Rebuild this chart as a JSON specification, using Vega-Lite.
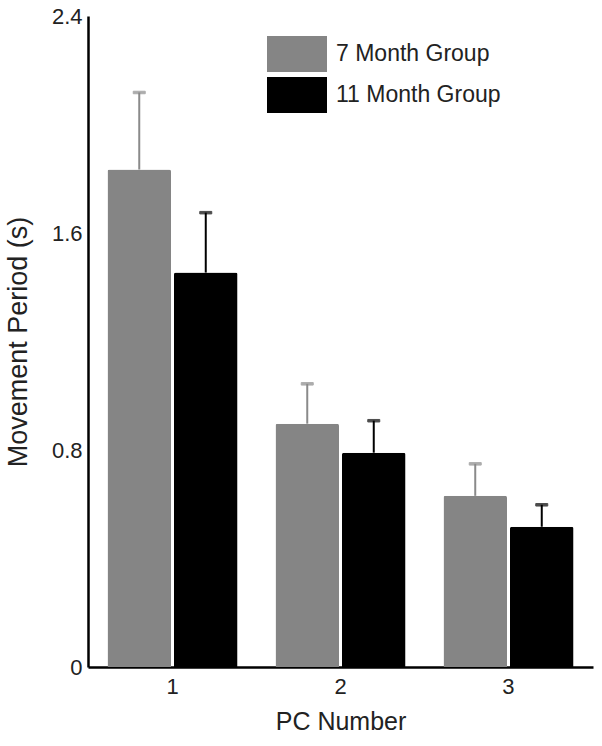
{
  "$schema": "https://vega.github.io/schema/vega-lite/v6.json",
  "autosize": "none",
  "width": 505,
  "height": 651,
  "padding": {"left": 88, "top": 16, "right": 9, "bottom": 79},
  "background": "white",
  "data": {
    "values": [
      {"pc": "1", "group": "7 Month Group", "mean": 1.834, "upper": 2.118},
      {"pc": "1", "group": "11 Month Group", "mean": 1.454, "upper": 1.675},
      {"pc": "2", "group": "7 Month Group", "mean": 0.897, "upper": 1.044},
      {"pc": "2", "group": "11 Month Group", "mean": 0.790, "upper": 0.908},
      {"pc": "3", "group": "7 Month Group", "mean": 0.631, "upper": 0.749},
      {"pc": "3", "group": "11 Month Group", "mean": 0.517, "upper": 0.598}
    ]
  },
  "encoding": {
    "x": {
      "field": "pc", "type": "nominal",
      "scale": {"paddingInner": 0.226, "paddingOuter": 0.116},
      "axis": {"title": "PC Number", "labelAngle": 0, "ticks": false, "labelPadding": 9, "titlePadding": 12}
    },
    "xOffset": {
      "field": "group", "type": "nominal",
      "sort": ["7 Month Group", "11 Month Group"],
      "scale": {"paddingInner": 0.045, "paddingOuter": 0}
    }
  },
  "layer": [
    {
      "mark": {"type": "bar", "cornerRadiusEnd": 2},
      "encoding": {
        "y": {
          "field": "mean", "type": "quantitative",
          "scale": {"domain": [0, 2.4], "nice": false},
          "axis": {"title": "Movement Period (s)", "titleFontSize": 27, "values": [0, 0.8, 1.6, 2.4], "format": "~g", "ticks": false, "grid": false, "labelPadding": 6, "titlePadding": 19}
        },
        "color": {
          "field": "group", "type": "nominal",
          "sort": ["7 Month Group", "11 Month Group"],
          "scale": {"domain": ["7 Month Group", "11 Month Group"], "range": ["#858585", "#000000"]},
          "legend": {
            "title": null,
            "orient": "none",
            "legendX": 194,
            "legendY": 23,
            "symbolType": "M-2,-1.2H2V1.2H-2Z",
            "symbolSize": 900,
            "symbolStrokeWidth": 0,
            "labelFontSize": 23,
            "labelFont": "Liberation Sans",
            "labelColor": "#222222",
            "labelOffset": 24,
            "labelLimit": 300,
            "rowPadding": 5
          }
        }
      }
    },
    {
      "mark": {"type": "rule", "strokeWidth": 2},
      "encoding": {
        "y": {"field": "mean", "type": "quantitative"},
        "y2": {"field": "upper"},
        "stroke": {
          "field": "group", "type": "nominal",
          "scale": {"domain": ["7 Month Group", "11 Month Group"], "range": ["#8a8a8a", "#000000"]},
          "legend": null
        }
      }
    },
    {
      "mark": {"type": "tick", "size": 12, "thickness": 2.5},
      "encoding": {
        "y": {"field": "upper", "type": "quantitative"},
        "stroke": {"field": "group", "type": "nominal", "legend": null},
        "fill": {"field": "group", "type": "nominal", "scale": {"domain": ["7 Month Group", "11 Month Group"], "range": ["#8a8a8a", "#000000"]}, "legend": null}
      }
    }
  ],
  "config": {
    "view": {"stroke": null},
    "font": "Liberation Sans",
    "axis": {
      "domainColor": "#000000",
      "domainWidth": 2.5,
      "labelFont": "Liberation Sans",
      "labelFontSize": 22,
      "labelColor": "#222222",
      "titleFont": "Liberation Sans",
      "titleFontSize": 25,
      "titleFontWeight": "normal",
      "titleColor": "#222222"
    }
  }
}
